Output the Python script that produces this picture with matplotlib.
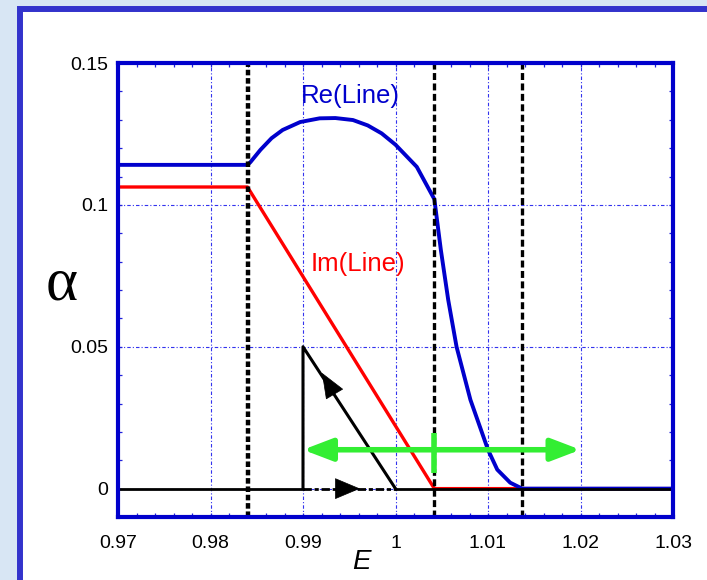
import matplotlib
matplotlib.use('Agg')
import matplotlib.pyplot as plt
from matplotlib.patches import Rectangle
from matplotlib.ticker import MultipleLocator

plt.rcParams['font.family'] = ['Liberation Sans', 'DejaVu Sans']
plt.rcParams['lines.scale_dashes'] = False

# Re(Line): flat, then an arc, then a steep drop to zero
re_E = [0.970, 0.9840, 0.9843, 0.9854, 0.9866, 0.9878, 0.9897, 0.9918, 0.9935,
        0.9954, 0.9970, 0.9985, 1.0000, 1.0023, 1.0042, 1.0049, 1.0057, 1.0066,
        1.0081, 1.0100, 1.0110, 1.0124, 1.0137, 1.030]
re_a = [0.1141, 0.1141, 0.1150, 0.1194, 0.1235, 0.1264, 0.1292, 0.1305, 0.1306,
        0.1299, 0.1280, 0.1252, 0.1212, 0.1134, 0.1020, 0.0842, 0.0665, 0.0500,
        0.0313, 0.0137, 0.0067, 0.0021, 0.0, 0.0]

# Im(Line): flat, then linear to zero
im_E = [0.970, 0.9840, 1.0042, 1.030]
im_a = [0.1063, 0.1063, 0.0, 0.0]

# triangle drawn in black
tri_E = [0.99, 0.99, 1.00]
tri_a = [0.0, 0.05, 0.0]

# threshold lines
v_E = [0.9840, 1.0042, 1.0137]

# green range
green_E = [0.99, 1.02]
green_a = 0.0137
green_tick = [0.0056, 0.0197]

xticks = [0.97, 0.98, 0.99, 1.0, 1.01, 1.02, 1.03]
xlabels = ['0.97', '0.98', '0.99', '1', '1.01', '1.02', '1.03']
yticks = [0, 0.05, 0.1, 0.15]
ylabels = ['0', '0.05', '0.1', '0.15']

W, H = 707, 580
fig = plt.figure(figsize=(W / 100, H / 100), dpi=100)
fig.patch.set_facecolor('#d8e6f4')

# white panel with blue border
panel = Rectangle((19.7 / W, -0.1), 1.2, 1.0 - 9.0 / H + 0.1, transform=fig.transFigure,
                  facecolor='white', edgecolor='#3333cc', linewidth=4.3, zorder=-5)
fig.patches.append(panel)

ax = fig.add_axes([118 / W, 1 - 517 / H, 555 / W, 454 / H])
ax.set_zorder(2)
ax.set_xlim(0.97, 1.03)
ax.set_ylim(-0.01, 0.15)

blue = '#0000cc'
for sp in ax.spines.values():
    sp.set_color(blue)
    sp.set_linewidth(3.0)
    sp.set_zorder(6)

ax.set_xticks(xticks)
ax.set_xticklabels(xlabels)
ax.set_yticks(yticks)
ax.set_yticklabels(ylabels)
ax.xaxis.set_minor_locator(MultipleLocator(0.002))
ax.yaxis.set_minor_locator(MultipleLocator(0.01))
ax.tick_params(which='both', direction='in', top=True, right=True, color='#2222dd',
               width=0.9, length=3)
ax.tick_params(axis='x', which='major', pad=13, labelsize=14)
ax.tick_params(axis='y', which='major', pad=7, labelsize=14)
ax.grid(True, which='major', color='#3333ee', linewidth=0.8,
        linestyle=(0, (2.5, 1.5, 0.8, 1.5)))
ax.set_axisbelow(True)

# curves
ax.plot(im_E, im_a, color='#ff0000', linewidth=2.4, zorder=3)
ax.plot(re_E, re_a, color=blue, linewidth=2.8, zorder=3, solid_joinstyle='round')

# zero line: solid outside the triangle, dashed under it
ax.plot([0.97, 0.99], [0, 0], color='black', linewidth=2.0, zorder=4)
ax.plot([1.00, 1.03], [0, 0], color='black', linewidth=2.0, zorder=4)
ax.plot([0.99, 1.00], [0, 0], color='black', linewidth=2.0, zorder=4,
        linestyle=(0, (6, 2, 3, 2)))
ax.plot(tri_E, tri_a, color='black', linewidth=2.2, zorder=4)

# direction arrows on the triangle
ax.annotate('', xy=(0.99616, 0.0), xytext=(0.99360, 0.0),
            arrowprops=dict(arrowstyle='-|>,head_length=1.0,head_width=0.42',
                            mutation_scale=17, color='black', lw=0.5,
                            shrinkA=0, shrinkB=0), zorder=5)
ax.annotate('', xy=(0.99205, 0.0408), xytext=(0.99285, 0.0364),
            arrowprops=dict(arrowstyle='-|>,head_length=1.0,head_width=0.4',
                            mutation_scale=17, color='black', lw=0.5,
                            shrinkA=0, shrinkB=0), zorder=5)

# vertical dashed thresholds
ax.axvline(v_E[0], color='black', linewidth=3.2, linestyle=(0, (4, 2)),
           ymax=1.0, zorder=5)
for e in v_E[1:]:
    ax.axvline(e, color='black', linewidth=2.4, linestyle=(0, (5, 2.5)),
               ymax=1.0, zorder=5)

# green double arrow with a centre mark
green = '#33ee33'
ax.annotate('', xy=(green_E[1], green_a), xytext=(green_E[0], green_a),
            arrowprops=dict(arrowstyle='<|-|>,head_length=1.1,head_width=0.42',
                            mutation_scale=16, color=green, lw=4.0,
                            shrinkA=0, shrinkB=0), zorder=6)
ax.plot([v_E[1], v_E[1]], green_tick, color=green, linewidth=4.0, zorder=6,
        solid_capstyle='butt')

# curve labels
ax.text(0.99508, 0.1382, 'Re(Line)', color=blue, fontsize=18.5, ha='center', va='center')
ax.text(0.99589, 0.0792, 'Im(Line)', color='#ff0000', fontsize=18.5, ha='center', va='center')

# axis labels
fig.text(62 / W, 1 - 285 / H, '\u03b1', fontsize=44, family=['Liberation Serif', 'DejaVu Serif'],
         ha='center', va='center')
fig.text(361 / W, 1 - 562 / H, 'E', fontsize=20, style='italic', ha='center', va='center')

fig.savefig('out.png', dpi=100, facecolor=fig.get_facecolor())
